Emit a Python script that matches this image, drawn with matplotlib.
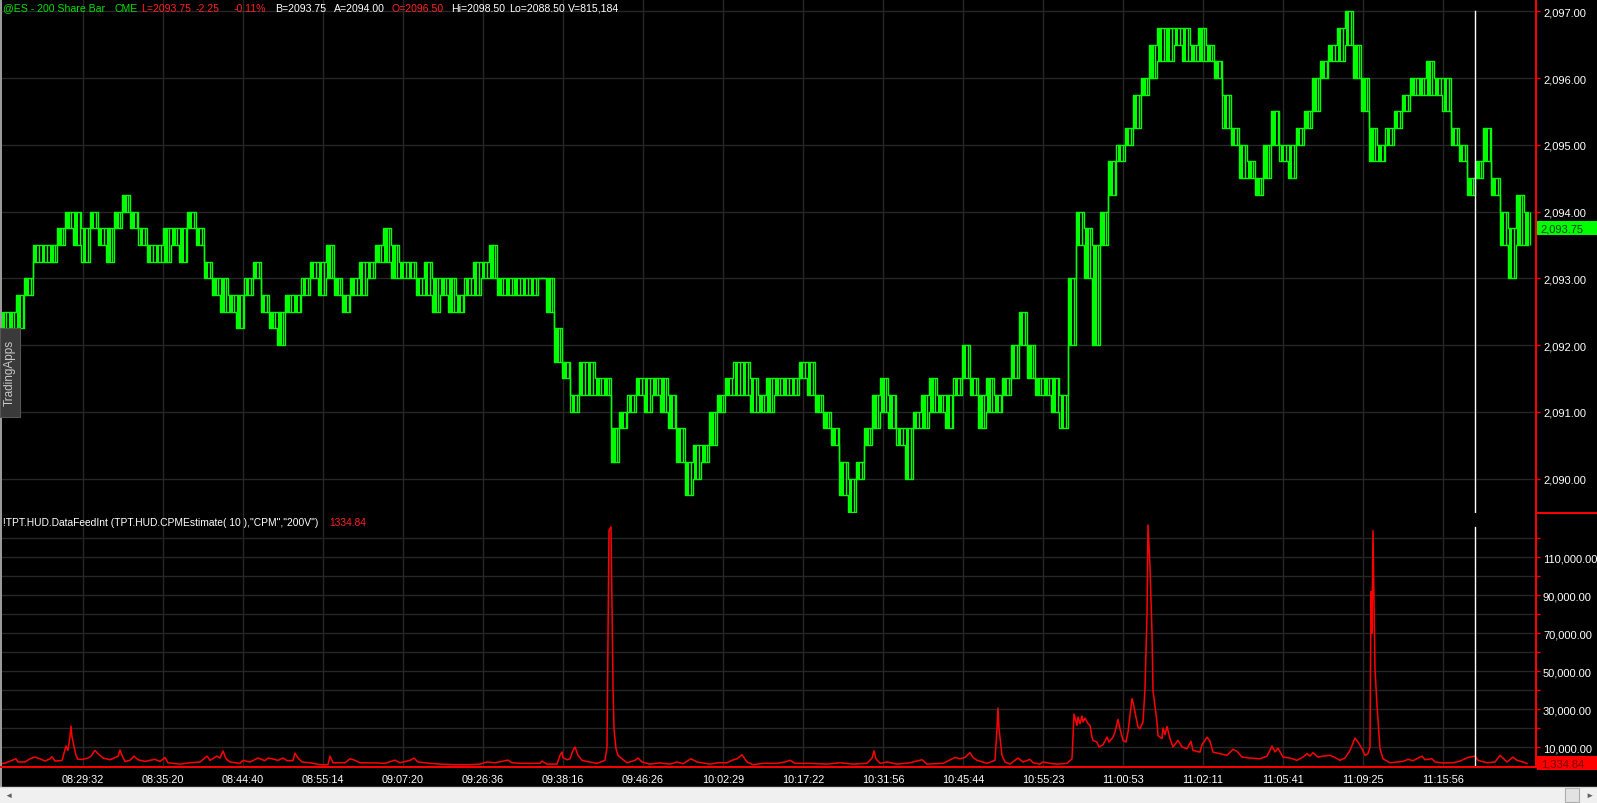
import matplotlib
matplotlib.use("Agg")
import matplotlib.pyplot as plt
import matplotlib.transforms as mtransforms
from matplotlib.patches import Rectangle
from matplotlib.lines import Line2D
import numpy as np

plt.rcParams['font.family'] = ['Liberation Sans', 'DejaVu Sans']

W, H = 1597, 804

# time axis labels (one per grid column)
time_labels = ["08:29:32", "08:35:20", "08:44:40", "08:55:14", "09:07:20", "09:26:36",
               "09:38:16", "09:46:26", "10:02:29", "10:17:22", "10:31:56", "10:45:44",
               "10:55:23", "11:00:53", "11:02:11", "11:05:41", "11:09:25", "11:15:56"]
price_ticks = [2090, 2091, 2092, 2093, 2094, 2095, 2096, 2097]
cpm_ticks = [10000, 30000, 50000, 70000, 90000, 110000]

# 200 share bars, low / high
price_lo = [2092.25, 2092.25, 2092.25, 2092.75, 2093.25, 2093.25, 2093.25, 2093.5, 2093.75, 2093.5,
            2093.25, 2093.75, 2093.5, 2093.25, 2093.75, 2094, 2093.75, 2093.5, 2093.25, 2093.25,
            2093.25, 2093.5, 2093.25, 2093.75, 2093.5, 2093, 2092.75, 2092.5, 2092.5, 2092.25,
            2092.75, 2093, 2092.5, 2092.25, 2092, 2092.5, 2092.5, 2092.75, 2093, 2092.75,
            2093, 2092.75, 2092.5, 2092.75, 2092.75, 2093, 2093.25, 2093.25, 2093, 2093,
            2093, 2092.75, 2092.75, 2092.5, 2092.75, 2092.5, 2092.5, 2092.75, 2092.75, 2093,
            2093, 2092.75, 2092.75, 2092.75, 2092.75, 2092.75, 2093, 2092.5, 2091.75, 2091.5,
            2091, 2091.25, 2091.25, 2091.25, 2091.25, 2090.25, 2090.75, 2091, 2091.25, 2091,
            2091.25, 2091, 2090.75, 2090.25, 2089.75, 2090, 2090.25, 2090.5, 2091, 2091.25,
            2091.25, 2091.25, 2091, 2091, 2091, 2091.25, 2091.25, 2091.25, 2091.5, 2091.25,
            2091, 2090.75, 2090.5, 2089.75, 2089.5, 2090, 2090.5, 2090.75, 2091, 2090.75,
            2090.5, 2090, 2090.75, 2090.75, 2091, 2091, 2090.75, 2091.25, 2091.5, 2091.25,
            2090.75, 2091, 2091, 2091.25, 2091.5, 2092, 2091.5, 2091.25, 2091.25, 2091,
            2090.75, 2092, 2093.5, 2093, 2092, 2093.5, 2094.25, 2094.75, 2095, 2095.25,
            2095.75, 2096, 2096.25, 2096.25, 2096.5, 2096.25, 2096.25, 2096.25, 2096.25, 2096,
            2095.25, 2095, 2094.5, 2094.5, 2094.25, 2094.5, 2095, 2094.75, 2094.5, 2095,
            2095.25, 2095.5, 2096, 2096.25, 2096.25, 2096.5, 2096, 2095.5, 2094.75, 2094.75,
            2095, 2095.25, 2095.5, 2095.75, 2095.75, 2095.75, 2095.75, 2095.5, 2095, 2094.75,
            2094.25, 2094.5, 2094.75, 2094.25, 2093.5, 2093, 2093.5, 2093.5]
price_hi = [2092.5, 2092.5, 2092.75, 2093, 2093.5, 2093.5, 2093.5, 2093.75, 2094, 2094,
            2093.75, 2094, 2093.75, 2093.75, 2094, 2094.25, 2094, 2093.75, 2093.5, 2093.5,
            2093.75, 2093.75, 2093.75, 2094, 2093.75, 2093.25, 2093, 2093, 2092.75, 2092.75,
            2093, 2093.25, 2092.75, 2092.5, 2092.5, 2092.75, 2092.75, 2093, 2093.25, 2093.25,
            2093.5, 2093, 2092.75, 2093, 2093.25, 2093.25, 2093.5, 2093.75, 2093.5, 2093.25,
            2093.25, 2093, 2093.25, 2093, 2093, 2093, 2092.75, 2093, 2093.25, 2093.25,
            2093.5, 2093, 2093, 2093, 2093, 2093, 2093, 2093, 2092.25, 2091.75,
            2091.25, 2091.75, 2091.75, 2091.5, 2091.5, 2090.75, 2091, 2091.25, 2091.5, 2091.5,
            2091.5, 2091.5, 2091.25, 2090.75, 2090.25, 2090.5, 2090.5, 2091, 2091.25, 2091.5,
            2091.75, 2091.75, 2091.5, 2091.25, 2091.5, 2091.5, 2091.5, 2091.5, 2091.75, 2091.75,
            2091.25, 2091, 2090.75, 2090.25, 2090, 2090.25, 2090.75, 2091.25, 2091.5, 2091.25,
            2090.75, 2090.75, 2091, 2091.25, 2091.5, 2091.25, 2091.25, 2091.5, 2092, 2091.5,
            2091.25, 2091.5, 2091.25, 2091.5, 2092, 2092.5, 2092, 2091.5, 2091.5, 2091.5,
            2091.25, 2093, 2094, 2093.75, 2093.5, 2094, 2094.75, 2095, 2095.25, 2095.75,
            2096, 2096.5, 2096.75, 2096.75, 2096.75, 2096.75, 2096.5, 2096.75, 2096.5, 2096.25,
            2095.75, 2095.25, 2095, 2094.75, 2094.5, 2095, 2095.5, 2095, 2095, 2095.25,
            2095.5, 2096, 2096.25, 2096.5, 2096.75, 2097, 2096.5, 2096, 2095.25, 2095,
            2095.25, 2095.5, 2095.75, 2096, 2096, 2096.25, 2096, 2096, 2095.25, 2095,
            2094.5, 2094.75, 2095.25, 2094.5, 2094, 2093.75, 2094.25, 2094]
last_price = 2093.75

# CPM estimate indicator (bar position, value in thousands)
cpm_x = [0, 5, 16, 18, 25, 30, 35, 40, 45, 50, 52, 55, 62, 66, 68, 70, 71, 72, 74, 76, 78, 83, 88, 91,
         95, 98, 103, 110, 118, 120, 122, 125, 130, 134, 138, 145, 150, 155, 160, 165, 168, 180, 190,
         200, 207, 210, 217, 220, 223, 226, 230, 240, 243, 250, 258, 265, 268, 272, 278, 283, 287, 293,
         295, 298, 302, 310, 320, 328, 330, 333, 345, 350, 355, 360, 375, 385, 395, 400, 410, 414, 418,
         430, 440, 455, 470, 480, 487, 495, 508, 512,
         520, 530, 540, 542, 547, 557, 560, 562, 563, 567, 570, 573, 575, 578, 582, 587, 597, 605, 607,
         609, 611, 613, 614, 616, 618, 622, 627, 635, 638, 642, 650, 660, 670, 677, 683, 691, 697, 710,
         718, 727, 732, 737, 742, 747, 753, 763, 777, 785, 790, 795, 810, 827, 840, 853, 867, 872, 874,
         876, 880, 887, 897, 910, 922, 927, 943, 955, 960, 965, 970, 973, 977, 987, 995, 997, 998, 999,
         1002, 1005, 1010, 1018, 1023, 1030,
         1033, 1040, 1043, 1050, 1057, 1067, 1072, 1073, 1074, 1077, 1078, 1080, 1082, 1083, 1085, 1087,
         1088, 1090, 1092, 1093, 1097, 1099, 1103, 1107, 1109, 1113, 1115, 1118, 1120, 1123, 1126, 1128,
         1132, 1133, 1135, 1138, 1140, 1143, 1145, 1147, 1148, 1150, 1152, 1153, 1157, 1158, 1162, 1163,
         1165, 1167, 1170, 1173, 1178, 1182, 1187, 1191, 1193, 1200, 1202, 1207, 1210, 1213, 1220, 1227,
         1233, 1237, 1242, 1250, 1260, 1267, 1272, 1275, 1278, 1283, 1290, 1297, 1303, 1307, 1310, 1313,
         1318, 1323, 1330, 1335, 1340, 1345, 1350, 1355, 1358, 1362, 1365, 1368, 1370, 1371, 1372, 1373,
         1375, 1377, 1380, 1383, 1390, 1403, 1408, 1413, 1422, 1425, 1432, 1435, 1443, 1453, 1460, 1468,
         1475, 1478, 1487, 1495, 1500, 1503, 1507, 1513, 1517, 1523, 1527]
cpm_k = [1.2, 1.5, 3.8, 2.1, 2.1, 3.8, 4.7, 3.8, 2.6, 3.8, 4.9, 2.6, 2.9, 10.5, 8.2, 15.8, 21, 15.3, 10.5,
         5.6, 3.5, 3.5, 4.2, 5.2, 8.2, 6.5, 4.2, 3.3, 5.1, 8.4, 5.6, 2.4, 3.0, 5.2, 3.3, 2.4, 3.0, 3.5,
         2.4, 4.5, 1.7, 1.0, 1.7, 2.1, 5.2, 3.0, 5.2, 4.2, 7.9, 3.8, 2.1, 1.4, 3.0, 2.1, 4.2, 2.8, 4.2,
         3.8, 3.0, 4.2, 2.8, 2.8, 6.8, 4.2, 2.1, 1.7, 0.7, 0.7, 5.2, 1.7, 1.7, 3.8, 3.0, 1.7, 1.6, 1.4,
         3.1, 1.7, 3.0, 4.2, 2.1, 1.4, 1.0, 0.7, 0.7, 1.0, 2.1, 1.7, 3.1, 1.7,
         1.4, 1.4, 1.4, 2.6, 1.0, 1.0, 5.6, 7.4, 4.4, 3.3, 3.8, 8.2, 10, 5.6, 3.0, 2.4, 1.4, 3.0, 10,
         124, 126, 42, 19.6, 9.1, 5.6, 3.8, 1.7, 3.0, 4.2, 2.1, 1.0, 1.6, 1.0, 2.1, 1.2, 3.8, 2.1, 1.0,
         1.7, 1.7, 3.0, 3.8, 5.9, 2.1, 0.7, 1.4, 1.4, 2.1, 3.0, 1.4, 1.4, 1.0, 1.7, 1.0, 1.4, 4.2, 8.0,
         3.8, 1.4, 2.1, 1.0, 1.7, 3.3, 1.0, 1.4, 4.5, 3.8, 4.5, 7.0, 4.5, 3.0, 1.4, 3.0, 19.6, 30.5, 19.6,
         5.6, 2.1, 1.0, 4.2, 2.1, 3.5,
         1.7, 1.0, 2.1, 1.4, 1.0, 1.4, 3.8, 16, 27.3, 21.4, 25.8, 22.3, 26.3, 23.2, 25.2, 23.2,
         22.3, 21.4, 15.2, 13.5, 12.6, 10, 11.2, 15.2, 12.6, 15.2, 17.9, 24.5, 19.6, 13.5, 12.6, 17.9,
         35.4, 33.7, 28.4, 20.5, 19.6, 23.2, 40.7, 80, 127, 105, 70, 39.8, 23.1, 16, 14.4, 20,
         16.5, 20.8, 14.4, 10, 13.5, 10, 9.1, 13, 8.2, 7.3, 11.2, 15.2, 13, 7.3, 6.5, 5.6,
         8.8, 7.7, 4.7, 4.2, 3.8, 5.2, 10.5, 7.4, 9.4, 4.7, 4.2, 3.0, 4.7, 6.5, 5.2, 7.0,
         4.7, 5.2, 5.6, 4.5, 3.0, 4.2, 8.2, 14.7, 12.6, 9.1, 5.6, 6.5, 10, 92, 70, 124,
         51, 32, 9.1, 3.8, 1.7, 2.4, 3.5, 2.8, 5.2, 3.3, 3.8, 2.1, 1.6, 1.7, 2.6, 4.5,
         5.2, 3.0, 1.7, 2.1, 5.6, 4.2, 2.1, 4.7, 3.0, 2.1, 1.3]
last_cpm = 1334.84

BG = "black"
GRID = "#262626"
GREEN = "#00ff00"
RED = "#ff0000"
FS = 7.6

fig = plt.figure(figsize=(W / 100, H / 100), dpi=100, facecolor=BG)


def fy(py):
    return 1 - py / H


plot_w = 1536 / W
ax1 = fig.add_axes([0, fy(514), plot_w, 514 / H], facecolor=BG)
ax2 = fig.add_axes([0, fy(767), plot_w, (767 - 514) / H], facecolor=BG)

grid_x = [83 + 80 * k for k in range(len(time_labels))]

for ax in (ax1, ax2):
    ax.set_xlim(0, 1536)
    for s in ("top", "left", "bottom"):
        ax.spines[s].set_visible(False)
    ax.spines["right"].set_color(RED)
    ax.spines["right"].set_linewidth(1.4)
    ax.yaxis.tick_right()
    ax.set_xticks(grid_x)
    ax.grid(True, color=GRID, linewidth=1)
    ax.set_axisbelow(True)
    ax.tick_params(axis="y", colors=RED, labelcolor="white", length=3, width=1,
                   labelsize=8, pad=2)

# price panel
ax1.set_ylim(2089.484, 2097.184)
ax1.set_yticks(price_ticks)
ax1.set_yticklabels([f"{v:,.2f}" for v in price_ticks])
ax1.tick_params(axis="x", length=0, labelbottom=False)

lo = np.array(price_lo)
hi = np.array(price_hi)
bx = np.arange(len(lo)) * 8.15 + 4
ax1.bar(bx - 1.2, hi - lo, bottom=lo, width=3.6, color=GREEN, linewidth=0, zorder=3)
ax1.vlines(bx + 2.2, lo, hi, color=GREEN, linewidth=1.0, zorder=3)
ax1.step(bx, lo, where="mid", color=GREEN, linewidth=1.0, zorder=3)
ax1.step(bx, hi, where="mid", color=GREEN, linewidth=1.0, zorder=3)

# indicator panel
ax2.set_ylim(0, 133300)
ax2.set_yticks(cpm_ticks)
ax2.set_yticklabels([f"{v:,.2f}" for v in cpm_ticks])
ax2.set_yticks([20000, 40000, 60000, 80000, 100000, 120000], minor=True)
ax2.tick_params(axis="y", which="minor", colors=RED, length=3, width=1)
ax2.grid(True, which="minor", axis="y", color=GRID, linewidth=1)
ax2.set_xticklabels(time_labels)
ax2.tick_params(axis="x", length=0, labelcolor="white", labelsize=7.8, pad=6)
ax2.plot(cpm_x, np.array(cpm_k) * 1000, color=RED, linewidth=1.1, zorder=3)

# cursor line
ax1.axvline(1475, ymin=0, ymax=1 - 12 / 514, color="white", linewidth=1, zorder=4)
ax2.axvline(1475, ymin=0, ymax=(767 - 528) / 253, color="white", linewidth=1, zorder=4)

# last value boxes on the axes
box_w = (W - 1537) / 1536
t1 = mtransforms.blended_transform_factory(ax1.transAxes, ax1.transData)
ax1.add_patch(Rectangle((1.0006, last_price - 0.105), box_w, 0.21, transform=t1,
                        facecolor=GREEN, edgecolor="none", clip_on=False, zorder=5))
ax1.text(1.003, last_price, f"{last_price:,.2f}", transform=t1, color="#0b3b0b",
         fontsize=8, va="center", ha="left", clip_on=False, zorder=6)
t2 = mtransforms.blended_transform_factory(ax2.transAxes, ax2.transData)
ax2.add_patch(Rectangle((1.0006, last_cpm - 3700), box_w, 7400, transform=t2,
                        facecolor=RED, edgecolor="none", clip_on=False, zorder=5))
ax2.text(1.003, last_cpm, f"{last_cpm:,.2f}", transform=t2, color="#7a0000",
         fontsize=8, va="center", ha="left", clip_on=False, zorder=6)

# panel frame lines
fig.add_artist(Line2D([1536 / W, 1], [fy(514), fy(514)], color=RED, linewidth=1.4))
fig.add_artist(Line2D([0, 1536 / W], [fy(767.5), fy(767.5)], color=RED, linewidth=1.4))

# header line
header = [(3.5, "@ES - 200 Share Bar", "#00e000"), (115, "CME", "#00e000"),
          (141, "L=2093.75", "#ff2020"), (196, "-2.25", "#ff2020"), (234, "-0.11%", "#ff2020"),
          (275, "B=2093.75", "white"), (334, "A=2094.00", "white"), (392, "O=2096.50", "#ff2020"),
          (451, "Hi=2098.50", "white"), (509, "Lo=2088.50", "white"), (568, "V=815,184", "white")]
for px, txt, col in header:
    fig.text(px / W, fy(8.5), txt, color=col, fontsize=FS, va="center", ha="left")

fig.text(3 / W, fy(523), '!TPT.HUD.DataFeedInt (TPT.HUD.CPMEstimate( 10 ),"CPM","200V")',
         color="white", fontsize=7.4, va="center", ha="left")
fig.text(329 / W, fy(523), "1334.84", color="#ff2020", fontsize=7.4, va="center", ha="left")

# left border and TradingApps tab
fig.add_artist(Rectangle((0, fy(788)), 2 / W, 788 / H, transform=fig.transFigure,
                         facecolor="#9a9a9a", edgecolor="none"))
fig.add_artist(Rectangle((0, fy(418)), 20 / W, 89 / H, transform=fig.transFigure,
                         facecolor="#3a3a3a", edgecolor="#555555", linewidth=0.8))
fig.text(10 / W, fy(373), "TradingApps", color="#c8c8c8", fontsize=8.5, rotation=90,
         va="center", ha="center")

# scrollbar
fig.add_artist(Rectangle((0, 0), 1, 16 / H, transform=fig.transFigure,
                         facecolor="#f0f0f0", edgecolor="none"))
fig.add_artist(Line2D([0, 1], [16 / H, 16 / H], color="#d8d8d8", linewidth=1))
fig.add_artist(Rectangle((1565 / W, 1 / H), 14 / W, 14 / H, transform=fig.transFigure,
                         facecolor="#e2e2e2", edgecolor="#acacac", linewidth=0.8))
fig.text(8 / W, fy(796), "\u25c4", color="#606060", fontsize=6, va="center", ha="center")
fig.text(1589 / W, fy(796), "\u25ba", color="#606060", fontsize=6, va="center", ha="center")

fig.savefig("out.png", dpi=100, facecolor=BG)
